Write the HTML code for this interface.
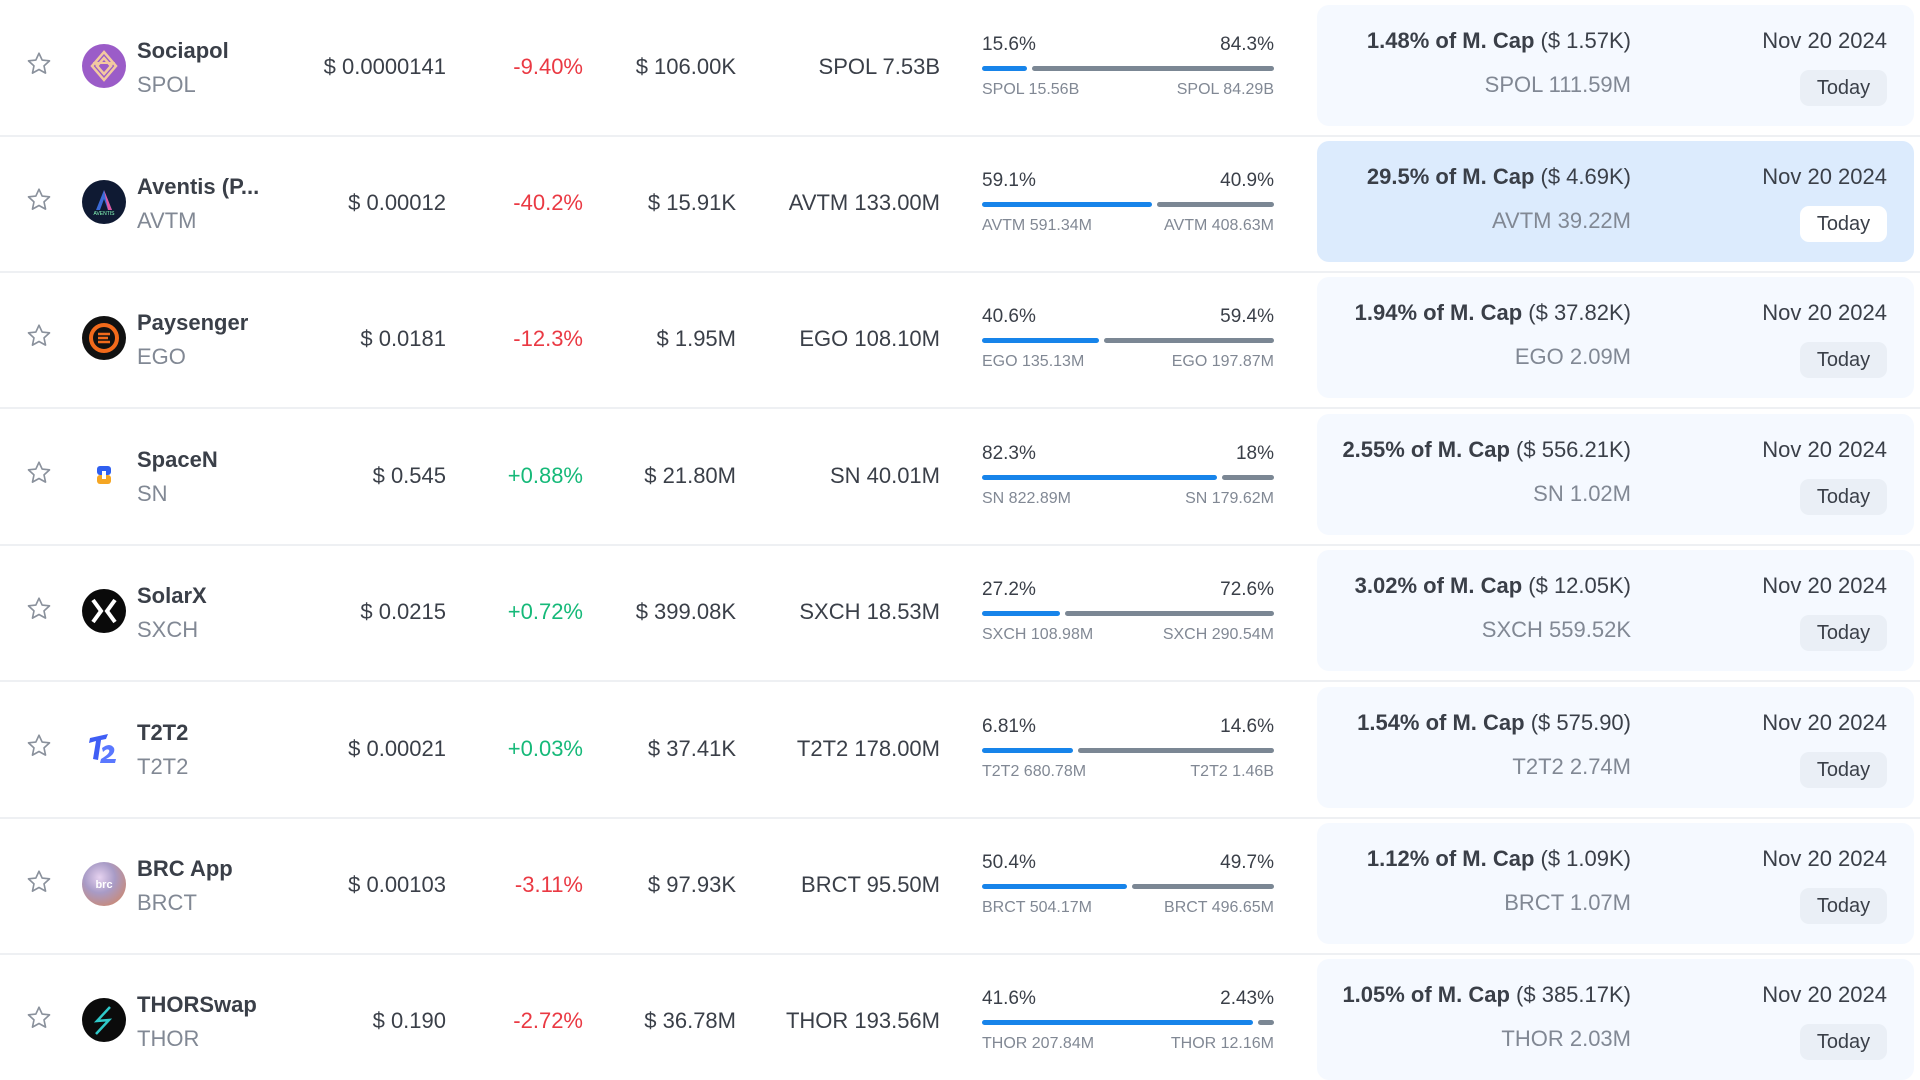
<!DOCTYPE html>
<html><head><meta charset="utf-8">
<style>
html,body{margin:0;padding:0;background:#fff;width:1920px;height:1080px;overflow:hidden;font-family:"Liberation Sans",sans-serif;}
#tbl{position:relative;width:1920px;height:1080px;}
.row{position:absolute;left:0;width:1920px;height:136px;border-bottom:2px solid #eef0f3;box-sizing:border-box;}
.a{position:absolute;white-space:nowrap;}
.dark{color:#3a3f48;}
.gray{color:#818894;}
.r{text-align:right;}
.card{position:absolute;left:1317px;width:597px;height:121px;border-radius:12px;background:#f5f9ff;}
.card.hl{background:#dcebfd;}
.today{position:absolute;left:1800px;width:87px;height:36px;border-radius:9px;background:#eaeff6;color:#3a3f48;font-size:20px;line-height:36px;text-align:center;}
.hl .today,.today.w{background:#fff;}
</style></head>
<body>
<div id="tbl"></div>
<script>
const names=["Sociapol","Aventis (P...","Paysenger","SpaceN","SolarX","T2T2","BRC App","THORSwap"];
const symbols=["SPOL","AVTM","EGO","SN","SXCH","T2T2","BRCT","THOR"];
const prices=["$ 0.0000141","$ 0.00012","$ 0.0181","$ 0.545","$ 0.0215","$ 0.00021","$ 0.00103","$ 0.190"];
const changes=[-9.40,-40.2,-12.3,0.88,0.72,0.03,-3.11,-2.72];
const changeLabels=["-9.40%","-40.2%","-12.3%","+0.88%","+0.72%","+0.03%","-3.11%","-2.72%"];
const volumes=["$ 106.00K","$ 15.91K","$ 1.95M","$ 21.80M","$ 399.08K","$ 37.41K","$ 97.93K","$ 36.78M"];
const supplies=["7.53B","133.00M","108.10M","40.01M","18.53M","178.00M","95.50M","193.56M"];
const unlockedPct=[15.6,59.1,40.6,82.3,27.2,6.81,50.4,41.6];
const lockedPct=[84.3,40.9,59.4,18,72.6,14.6,49.7,2.43];
const unlockedAmt=["15.56B","591.34M","135.13M","822.89M","108.98M","680.78M","504.17M","207.84M"];
const lockedAmt=["84.29B","408.63M","197.87M","179.62M","290.54M","1.46B","496.65M","12.16M"];
const capPct=["1.48%","29.5%","1.94%","2.55%","3.02%","1.54%","1.12%","1.05%"];
const capUsd=["$ 1.57K","$ 4.69K","$ 37.82K","$ 556.21K","$ 12.05K","$ 575.90","$ 1.09K","$ 385.17K"];
const nextAmt=["111.59M","39.22M","2.09M","1.02M","559.52K","2.74M","1.07M","2.03M"];
const dates=["Nov 20 2024","Nov 20 2024","Nov 20 2024","Nov 20 2024","Nov 20 2024","Nov 20 2024","Nov 20 2024","Nov 20 2024"];
const highlighted=1;

const logos=[
 '<circle cx="22" cy="22" r="22" fill="#9b5cc8"/><path d="M22 8 L34 22 L22 36 L10 22Z M22 14 L29 22 L22 30 L15 22Z" fill="none" stroke="#f3c9a0" stroke-width="2.5"/><path d="M13 19 H31 L22 30Z" fill="none" stroke="#f3c9a0" stroke-width="2"/>',
 '<circle cx="22" cy="22" r="22" fill="#0f1a33"/><path d="M14 30 L22 10 L30 30 L26 30 L22 19 L18 30Z" fill="#3b6bd8"/><path d="M22 10 L30 30 L26 30Z" fill="#e05aa0"/><text x="22" y="35" font-size="5" fill="#8fb" text-anchor="middle" font-family="Liberation Sans">AVENTIS</text>',
 '<circle cx="22" cy="22" r="22" fill="#111"/><circle cx="22" cy="22" r="13" fill="none" stroke="#f26a1b" stroke-width="4"/><path d="M16 18 H28 M16 22 H26 M16 26 H28" stroke="#f26a1b" stroke-width="2.5"/>',
 '<rect x="15" y="13" width="14" height="9" rx="3" fill="#2f5ff0"/><rect x="15" y="22" width="14" height="9" rx="3" fill="#f5a623"/><rect x="20" y="18" width="4" height="8" fill="#fff"/>',
 '<circle cx="22" cy="22" r="22" fill="#0a0a0a"/><path d="M11 11 L19 22 L11 33 M33 11 L25 22 L33 33" stroke="#fff" stroke-width="4" fill="none"/>',
 '<path d="M8 12 L26 8 L24 13 L19 14 L16 34 L11 33 L14 15 L7 17Z" fill="#3f5ef5"/><path d="M20 22 Q28 16 32 22 Q34 28 24 33 L34 33 L33 37 L18 37 L19 33 Q29 27 27 24 Q25 22 21 26Z" fill="#5a78ff"/>',
 '<defs><radialGradient id="brcg" cx="40%" cy="35%" r="70%"><stop offset="0" stop-color="#e6d2f0"/><stop offset="0.5" stop-color="#a89bc6"/><stop offset="1" stop-color="#c88a7a"/></radialGradient></defs><circle cx="22" cy="22" r="22" fill="url(#brcg)"/><text x="22" y="26" font-size="11" fill="#fff" text-anchor="middle" font-family="Liberation Sans" font-weight="bold">brc</text>',
 '<circle cx="22" cy="22" r="22" fill="#0b0b0b"/><path d="M28 9 L15 23 L27 22 L14 36" stroke="#2fc9c9" stroke-width="2.5" fill="none"/>'
];

const tbl=document.getElementById('tbl');
const ROWH=136.4, TOP=0.5;
const barX=982, barW=292, gap=5;

function div(parent,cls,style,text,name,inter){
  const d=document.createElement('div');
  d.className=cls;
  d.setAttribute('style',style);
  if(text!==undefined&&text!==null) d.textContent=text;
  
  
  parent.appendChild(d);
  return d;
}

for(let i=0;i<names.length;i++){
  const top=TOP+ROWH*i;
  const row=document.createElement('div');
  row.className='row';
  row.style.top=top+'px';
  
  
  tbl.appendChild(row);
  const c=68;
  const st=document.createElement('div');
  st.className='a';
  st.style.cssText='left:25px;top:'+(c-19)+'px;width:28px;height:28px;';
  st.innerHTML='<svg width="28" height="28" viewBox="0 0 24 24"><path d="M12 2.8l2.7 5.8 6.3.7-4.7 4.3 1.3 6.2L12 16.7 6.4 19.8l1.3-6.2L3 9.3l6.3-.7z" fill="none" stroke="#8a919c" stroke-width="1.4" stroke-linejoin="round"/></svg>';
  
  
  row.appendChild(st);
  const lg=document.createElement('div');
  lg.className='a';
  lg.style.cssText='left:82px;top:'+(c-25)+'px;width:44px;height:44px;';
  lg.innerHTML='<svg width="44" height="44" viewBox="0 0 44 44">'+logos[i]+'</svg>';
  
  
  row.appendChild(lg);
  div(row,'a dark','left:137px;top:'+(c-31)+'px;font-size:22px;font-weight:bold;',names[i],'token-name',true);
  div(row,'a gray','left:137px;top:'+(c+3)+'px;font-size:22px;',symbols[i],'token-symbol',false);
  div(row,'a dark r','right:'+(1920-446)+'px;top:'+(c-15)+'px;font-size:22px;',prices[i],'price',false);
  div(row,'a r','right:'+(1920-583)+'px;top:'+(c-15)+'px;font-size:22px;color:'+(changes[i]<0?'#ea3943':'#16b979')+';',changeLabels[i],'price-change',false);
  div(row,'a dark r','right:'+(1920-736)+'px;top:'+(c-15)+'px;font-size:22px;',volumes[i],'volume',false);
  div(row,'a dark r','right:'+(1920-940)+'px;top:'+(c-15)+'px;font-size:22px;',symbols[i]+' '+supplies[i],'circulating-supply',false);
  div(row,'a dark','left:'+barX+'px;top:'+(c-35)+'px;font-size:19px;',unlockedPct[i]+'%','unlocked-percent',false);
  div(row,'a dark r','right:'+(1920-barX-barW)+'px;top:'+(c-35)+'px;font-size:19px;',lockedPct[i]+'%','locked-percent',false);
  const frac=unlockedPct[i]/(unlockedPct[i]+lockedPct[i]);
  const bw=(barW-gap)*frac;
  div(row,'a','left:'+barX+'px;top:'+(c-3)+'px;width:'+bw+'px;height:5px;border-radius:3px;background:#1784ea;',null,'unlocked-bar',false);
  div(row,'a','left:'+(barX+bw+gap)+'px;top:'+(c-3)+'px;width:'+(barW-gap-bw)+'px;height:5px;border-radius:3px;background:#7b8794;',null,'locked-bar',false);
  div(row,'a gray','left:'+barX+'px;top:'+(c+12)+'px;font-size:16px;',symbols[i]+' '+unlockedAmt[i],'unlocked-amount',false);
  div(row,'a gray r','right:'+(1920-barX-barW)+'px;top:'+(c+12)+'px;font-size:16px;',symbols[i]+' '+lockedAmt[i],'locked-amount',false);
  div(row,'card'+(i===highlighted?' hl':''),'top:'+(c-64)+'px;',null,'next-unlock-card',true);
  const capLine=div(row,'a dark r','right:'+(1920-1631)+'px;top:'+(c-41)+'px;font-size:22px;',null,'unlock-market-cap',false);
  capLine.innerHTML='<b>'+capPct[i]+' of M. Cap</b> ('+capUsd[i]+')';
  div(row,'a gray r','right:'+(1920-1631)+'px;top:'+(c+3)+'px;font-size:22px;',symbols[i]+' '+nextAmt[i],'unlock-amount',false);
  div(row,'a dark r','right:'+(1920-1887)+'px;top:'+(c-41)+'px;font-size:22px;',dates[i],'unlock-date',false);
  div(row,'today'+(i===highlighted?' w':''),'top:'+(c+1)+'px;','Today','today-button',true);
}
</script>
</body></html>
